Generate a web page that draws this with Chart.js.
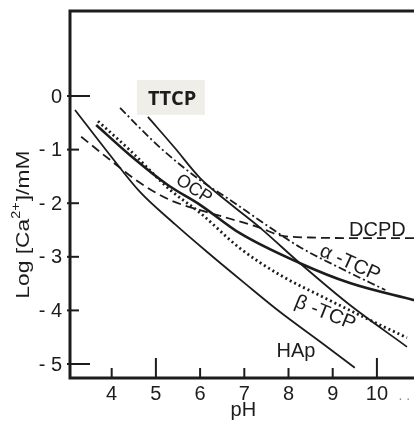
<!DOCTYPE html>
<html>
<head>
<meta charset="utf-8">
<script src="https://cdn.jsdelivr.net/npm/chart.js@4.4.1/dist/chart.umd.min.js"></script>
<style>
  html, body { margin: 0; padding: 0; background: #fff; }
  #wrap { width: 414px; height: 421px; position: relative; }
</style>
</head>
<body>
<div id="wrap"><canvas id="solChart"></canvas></div>
<script>
// Solubility isotherms: pH and log[Ca2+] (mM)
const hapPH   = [3.17, 3.96, 4.64, 5.43, 6.16, 7.02, 7.81, 8.71, 9.50];
const hapLog  = [-0.26, -1.10, -1.79, -2.39, -2.91, -3.50, -4.03, -4.58, -5.07];

const dcpdPH  = [3.31, 3.96, 4.64, 5.32, 6.00, 6.68, 7.36, 7.81, 8.50, 9.40, 10.84];
const dcpdLog = [-0.76, -1.19, -1.62, -1.94, -2.13, -2.29, -2.46, -2.60, -2.64, -2.65, -2.65];

const ocpPH   = [3.65, 4.41, 5.27, 6.00, 6.90, 8.26, 9.39, 10.84];
const ocpLog  = [-0.54, -1.10, -1.66, -2.03, -2.56, -3.12, -3.49, -3.81];

const btcpPH  = [3.69, 4.41, 5.32, 6.00, 6.90, 7.81, 8.78, 9.84, 10.68];
const btcpLog = [-0.47, -1.01, -1.75, -2.18, -2.84, -3.34, -3.75, -4.18, -4.51];

const ttcpPH  = [4.82, 5.43, 6.00, 6.68, 7.36, 8.26, 9.39, 10.68];
const ttcpLog = [-0.39, -0.97, -1.53, -2.01, -2.46, -3.12, -3.90, -4.68];

const atcpPH  = [4.19, 4.64, 5.16, 6.00, 6.68, 7.47, 8.26, 9.17, 10.19];
const atcpLog = [-0.22, -0.60, -1.01, -1.57, -1.94, -2.39, -2.82, -3.21, -3.62];

// axis ticks
const xTicks = [4, 5, 6, 7, 8, 9, 10];
const yTicks = [0, -1, -2, -3, -4, -5];

function pts(xs, ys) {
  return xs.map((v, i) => ({ x: v, y: ys[i] }));
}

const ink = '#1c1c1c';
const font = '"Liberation Sans", Arial, sans-serif';

function line(label, xs, ys, width, dash) {
  return {
    label: label,
    data: pts(xs, ys),
    showLine: true,
    borderColor: ink,
    borderWidth: width,
    borderDash: dash,
    borderCapStyle: 'butt',
    pointRadius: 0,
    cubicInterpolationMode: 'monotone',
    fill: false
  };
}

// draws the frame, inward ticks, tick labels and curve labels
const figurePlugin = {
  id: 'figure',
  beforeDatasetsDraw(chart) {
    const ctx = chart.ctx;
    const xs = chart.scales.x, ys = chart.scales.y;
    // grey patch behind the TTCP label
    const bx = xs.getPixelForValue(4.57), by = ys.getPixelForValue(0.3);
    ctx.save();
    ctx.fillStyle = '#efeee8';
    ctx.fillRect(bx, by, 68, 35);
    ctx.restore();
  },
  afterDraw(chart) {
    const ctx = chart.ctx;
    const a = chart.chartArea;
    const xs = chart.scales.x, ys = chart.scales.y;
    ctx.save();
    ctx.strokeStyle = ink;
    ctx.fillStyle = ink;

    // frame: left, bottom and top
    ctx.lineWidth = 3;
    ctx.beginPath();
    ctx.moveTo(chart.width, a.top);
    ctx.lineTo(a.left, a.top);
    ctx.lineTo(a.left, a.bottom);
    ctx.lineTo(chart.width, a.bottom);
    ctx.stroke();

    // y ticks and labels
    ctx.lineWidth = 2;
    ctx.font = '20px ' + font;
    ctx.textAlign = 'right';
    ctx.textBaseline = 'middle';
    yTicks.forEach(v => {
      const py = ys.getPixelForValue(v);
      const len = (v === 0 || v === -5) ? 20 : 9;
      ctx.beginPath();
      ctx.moveTo(a.left - 3, py);
      ctx.lineTo(a.left + len, py);
      ctx.stroke();
      ctx.fillText(v === 0 ? '0' : '- ' + (-v), a.left - 8, py + 1);
    });

    // x ticks and labels
    ctx.textAlign = 'center';
    ctx.textBaseline = 'alphabetic';
    xTicks.forEach(v => {
      const px = xs.getPixelForValue(v);
      const len = (v === 5 || v === 10) ? 20 : 10;
      ctx.beginPath();
      ctx.moveTo(px, a.bottom);
      ctx.lineTo(px, a.bottom - len);
      ctx.stroke();
      ctx.fillText(String(v), px, a.bottom + 22);
    });
    ctx.font = '14px ' + font;
    ctx.fillStyle = '#888';
    ctx.fillText('. .', xs.getPixelForValue(10.62), a.bottom + 22);
    ctx.fillStyle = ink;

    // axis titles
    ctx.font = '20px ' + font;
    ctx.fillText('pH', xs.getPixelForValue(7) - 1, a.bottom + 38);

    ctx.save();
    ctx.translate(24, ys.getPixelForValue(-2.4));
    ctx.rotate(-Math.PI / 2);
    ctx.scale(1.2, 1);
    ctx.textBaseline = 'middle';
    ctx.textAlign = 'left';
    const p1 = 'Log [Ca', p3 = ']/mM';
    ctx.font = '19px ' + font;
    const w1 = ctx.measureText(p1).width, w3 = ctx.measureText(p3).width;
    ctx.font = '12px ' + font;
    const w2 = ctx.measureText('2+').width + 1;
    const start = -(w1 + w2 + w3) / 2;
    ctx.font = '19px ' + font;
    ctx.fillText(p1, start, 0);
    ctx.font = '12px ' + font;
    ctx.fillText('2+', start + w1, -7);
    ctx.font = '19px ' + font;
    ctx.fillText(p3, start + w1 + w2, 0);
    ctx.restore();

    // curve labels
    function label(text, ph, lg, angle, f, align) {
      ctx.save();
      ctx.translate(xs.getPixelForValue(ph), ys.getPixelForValue(lg));
      ctx.rotate(angle * Math.PI / 180);
      ctx.font = f;
      ctx.textAlign = align || 'center';
      ctx.textBaseline = 'middle';
      ctx.fillText(text, 0, 0);
      ctx.restore();
    }
    label('TTCP', 4.82, -0.07, 0, 'bold 20px "Open Sans", sans-serif', 'left');
    label('OCP', 5.86, -1.74, 33, '18px ' + font);
    label('DCPD', 9.37, -2.50, 0, '20px ' + font, 'left');
    label('\u03b1 -TCP', 9.39, -3.12, 24, '20px ' + font);
    label('\u03b2 -TCP', 8.83, -4.05, 22, '20px ' + font);
    label('HAp', 8.17, -4.76, 0, '20px ' + font);

    ctx.restore();
  }
};

const ctx = document.getElementById('solChart').getContext('2d');
const solChart = new Chart(ctx, {
  type: 'scatter',
  data: {
    datasets: [
      line('HAp', hapPH, hapLog, 1.8, []),
      line('DCPD', dcpdPH, dcpdLog, 1.8, [9, 5]),
      line('OCP', ocpPH, ocpLog, 2.6, []),
      line('\u03b2-TCP', btcpPH, btcpLog, 2.8, [2, 3]),
      line('TTCP', ttcpPH, ttcpLog, 1.8, []),
      line('\u03b1-TCP', atcpPH, atcpLog, 1.8, [8, 3, 2, 3])
    ]
  },
  options: {
    responsive: true,
    maintainAspectRatio: false,
    animation: false,
    layout: { padding: { left: 70, top: 11, right: 0, bottom: 43 } },
    plugins: {
      legend: { display: false },
      tooltip: { enabled: false }
    },
    scales: {
      x: { type: 'linear', min: 3.057, max: 10.839, display: false },
      y: { type: 'linear', min: -5.261, max: 1.586, display: false }
    }
  },
  plugins: [figurePlugin]
});
</script>
</body>
</html>
